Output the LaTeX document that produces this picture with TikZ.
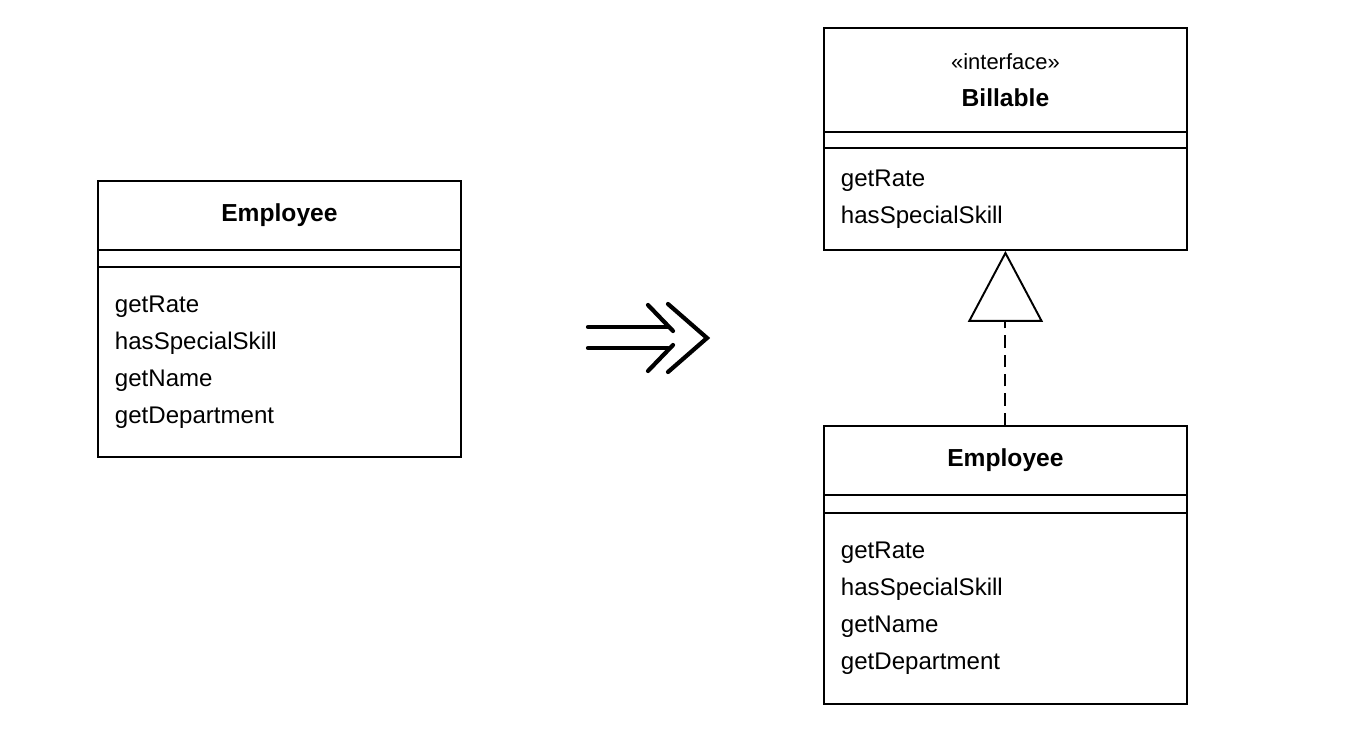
\documentclass[tikz,border=0pt]{standalone}
\usepackage{fontspec}
\setmainfont{Liberation Sans}
\usetikzlibrary{arrows.meta}
\tikzset{
  part/.style={draw, line width=1.1pt, anchor=north west, minimum width=7.26cm, inner sep=0pt},
  hdr/.style={part, align=center, font=\fontsize{14}{21}\selectfont\bfseries},
  attr/.style={part, minimum height=0.34cm},
  meth/.style={part, align=left, inner xsep=0.34cm, text width=6.58cm, font=\fontsize{13.7}{21}\selectfont},
  chev/.style={line width=2.4pt, line cap=round, line join=miter}
}
\begin{document}
\begin{tikzpicture}[x=0.02cm, y=-0.02cm]
\useasboundingbox (0,0) rectangle (1366,730);
\node[hdr, minimum height=1.38cm] (emp1h) at (97,180){Employee};
\node[attr] (emp1a) at (97,249){};
\node[meth, minimum height=3.8cm] (emp1m) at (97,266){getRate\\hasSpecialSkill\\getName\\getDepartment};
\draw[chev](588,327) -- (668,327);
\draw[chev](588,348) -- (668,348);
\draw[chev](648,305) -- (673,331);
\draw[chev](648,371) -- (673,345);
\draw[chev](668,304) -- (707,338) -- (668,372);
\node[hdr, minimum height=2.08cm] (billh) at (823,27){{\mdseries\fontsize{12.5}{21}\selectfont «interface»}\\Billable};
\node[attr, minimum height=0.32cm] (billa) at (823,131){};
\node[meth, minimum height=2.04cm] (billm) at (823,147){getRate\\hasSpecialSkill};
\node[hdr, minimum height=1.38cm] (emp2h) at (823,425){Employee};
\node[attr, minimum height=0.36cm] (emp2a) at (823,494){};
\node[meth, minimum height=3.82cm] (emp2m) at (823,512){getRate\\hasSpecialSkill\\getName\\getDepartment};
\draw[line width=1.1pt, dash pattern=on 7pt off 4pt, -{Triangle[open, length=1.42cm, width=1.5cm]}](emp2h.north) -- (billm.south);
\end{tikzpicture}
\end{document}
